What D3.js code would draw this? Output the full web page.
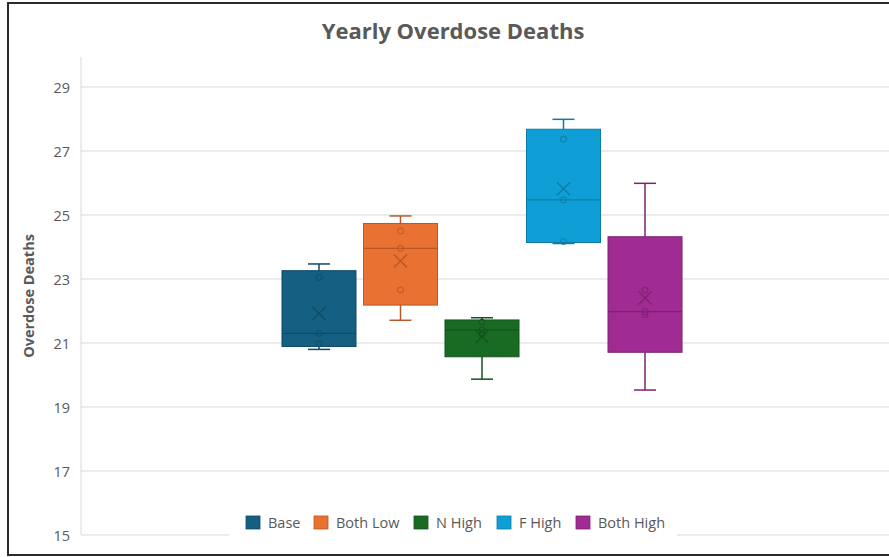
<!DOCTYPE html>
<html>
<head>
<meta charset="utf-8">
<script src="https://cdn.jsdelivr.net/npm/d3@7"></script>
<style>
  html, body { margin: 0; padding: 0; background: #fff; }
  svg { display: block; font-family: "Open Sans", "Noto Sans", sans-serif; }
</style>
</head>
<body>
<svg id="chart" width="889" height="557"></svg>
<script>
// Scenario names and colours
const seriesNames = ["Base", "Both Low", "N High", "F High", "Both High"];
const seriesColors = ["#156082", "#E97132", "#196B24", "#0F9ED5", "#A02B93"];

// Yearly overdose deaths per scenario (five runs each)
const base     = [20.80, 20.98, 21.30, 23.05, 23.47];
const bothLow  = [21.71, 22.66, 23.96, 24.50, 24.97];
const nHigh    = [19.87, 21.27, 21.41, 21.65, 21.79];
const fHigh    = [24.11, 24.17, 25.47, 27.37, 27.99];
const bothHigh = [19.53, 21.89, 21.98, 22.65, 25.99];

const yTicks = [15, 17, 19, 21, 23, 25, 27, 29];
const yDomain = [15, 29.5];

const runs = [base, bothLow, nHigh, fHigh, bothHigh];

// Exclusive-median quartile (position p*(n+1))
function quartileExc(sorted, p) {
  const n = sorted.length;
  const pos = p * (n + 1);
  const lo = Math.floor(pos);
  const frac = pos - lo;
  if (lo < 1) return sorted[0];
  if (lo >= n) return sorted[n - 1];
  return sorted[lo - 1] + frac * (sorted[lo] - sorted[lo - 1]);
}

const stats = runs.map((vals, i) => {
  const s = vals.slice().sort(d3.ascending);
  const q1 = quartileExc(s, 0.25), med = quartileExc(s, 0.5), q3 = quartileExc(s, 0.75);
  const iqr = q3 - q1;
  const lowW = d3.min(s.filter(v => v >= q1 - 1.5 * iqr));
  const highW = d3.max(s.filter(v => v <= q3 + 1.5 * iqr));
  const inner = s.filter(v => v > lowW && v < highW);
  return { name: seriesNames[i], color: seriesColors[i], q1, med, q3, lowW, highW, mean: d3.mean(s), inner };
});

const svg = d3.select("#chart");
const W = 889, H = 557;
const plot = { left: 81, right: 883, top: 57, bottom: 535 };

// Chart frame
svg.append("rect")
  .attr("x", 8).attr("y", 3)
  .attr("width", W + 20).attr("height", 552)
  .attr("fill", "#fff")
  .attr("stroke", "#2b2b2b").attr("stroke-width", 2);

const y = d3.scaleLinear().domain(yDomain).range([plot.bottom - (yDomain[0] - 15) * 32, plot.bottom - (yDomain[1] - 15) * 32]);
const x = d3.scaleBand().domain(seriesNames)
  .range([plot.left, plot.right])
  .paddingInner(0.092)
  .paddingOuter(2.466);

// Gridlines
svg.append("g")
  .selectAll("line").data(yTicks).join("line")
  .attr("x1", plot.left).attr("x2", W)
  .attr("y1", d => y(d)).attr("y2", d => y(d))
  .attr("stroke", "#d9d9d9").attr("stroke-width", 1);

// Left axis line
svg.append("line")
  .attr("x1", plot.left).attr("x2", plot.left)
  .attr("y1", plot.top).attr("y2", plot.bottom)
  .attr("stroke", "#d9d9d9").attr("stroke-width", 1);

// Y axis tick labels
const yAxis = d3.axisLeft(y).tickValues(yTicks).tickSize(0).tickPadding(11).tickFormat(d3.format("d"));
const gy = svg.append("g").attr("transform", `translate(${plot.left},0)`).call(yAxis);
gy.select(".domain").remove();
gy.selectAll("text")
  .attr("fill", "#595959")
  .attr("dy", "0.4em")
  .style("font-size", "14.5px")
  .style("font-family", "'Open Sans', sans-serif");

// Y axis title
svg.append("text")
  .attr("transform", `translate(34,${(plot.top + plot.bottom) / 2}) rotate(-90)`)
  .attr("text-anchor", "middle")
  .attr("fill", "#595959")
  .style("font-size", "14.5px")
  .style("font-weight", "700")
  .text("Overdose Deaths");

// Title
svg.append("text")
  .attr("x", 453).attr("y", 39)
  .attr("text-anchor", "middle")
  .attr("fill", "#595959")
  .style("font-size", "22px")
  .style("font-weight", "700")
  .text("Yearly Overdose Deaths");

// Boxes
const boxes = svg.append("g").selectAll("g").data(stats).join("g");
boxes.each(function (d) {
  const g = d3.select(this);
  const x0 = x(d.name), bw = x.bandwidth(), cx = x0 + bw / 2;
  const dark = d3.color(d.color).darker(0.7).formatHex();
  const capW = 22;

  // whiskers
  g.append("line").attr("x1", cx).attr("x2", cx).attr("y1", y(d.highW)).attr("y2", y(d.q3))
    .attr("stroke", dark).attr("stroke-width", 1.5);
  g.append("line").attr("x1", cx).attr("x2", cx).attr("y1", y(d.q1)).attr("y2", y(d.lowW))
    .attr("stroke", dark).attr("stroke-width", 1.5);
  g.append("line").attr("x1", cx - capW / 2).attr("x2", cx + capW / 2).attr("y1", y(d.highW)).attr("y2", y(d.highW))
    .attr("stroke", dark).attr("stroke-width", 1.5);
  g.append("line").attr("x1", cx - capW / 2).attr("x2", cx + capW / 2).attr("y1", y(d.lowW)).attr("y2", y(d.lowW))
    .attr("stroke", dark).attr("stroke-width", 1.5);

  // box
  g.append("rect")
    .attr("x", x0).attr("width", bw)
    .attr("y", y(d.q3)).attr("height", y(d.q1) - y(d.q3))
    .attr("fill", d.color)
    .attr("stroke", dark).attr("stroke-width", 1);

  // median
  g.append("line").attr("x1", x0).attr("x2", x0 + bw).attr("y1", y(d.med)).attr("y2", y(d.med))
    .attr("stroke", dark).attr("stroke-width", 1.2);

  // inner points
  g.selectAll("circle").data(d.inner).join("circle")
    .attr("cx", cx).attr("cy", v => y(v)).attr("r", 3)
    .attr("fill", "none").attr("stroke", dark).attr("stroke-width", 1);

  // mean marker
  const s = 6.5, my = y(d.mean);
  g.append("path")
    .attr("d", `M${cx - s},${my - s}L${cx + s},${my + s}M${cx - s},${my + s}L${cx + s},${my - s}`)
    .attr("stroke", dark).attr("stroke-width", 1.3).attr("fill", "none");
});

// Legend
const legend = svg.append("g");
legend.append("rect")
  .attr("x", 229).attr("y", 506).attr("width", 448).attr("height", 36)
  .attr("fill", "#fff");
const legendX = [246, 314, 414, 497, 576];
const items = legend.selectAll("g.item").data(stats).join("g").attr("class", "item")
  .attr("transform", (d, i) => `translate(${legendX[i]},516)`);
items.append("rect")
  .attr("width", 14).attr("height", 13)
  .attr("fill", d => d.color)
  .attr("stroke", d => d3.color(d.color).darker(0.7).formatHex()).attr("stroke-width", 0.8);
items.append("text")
  .attr("x", 22).attr("y", 12)
  .attr("fill", "#595959")
  .style("font-size", "14.5px")
  .text(d => d.name);
</script>
</body>
</html>
